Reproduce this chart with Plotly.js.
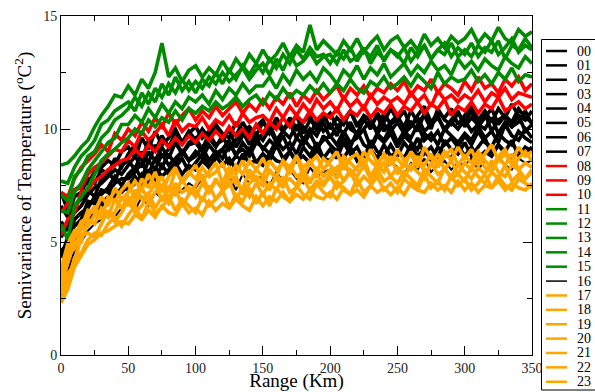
<!DOCTYPE html>
<html><head><meta charset="utf-8">
<script src="https://cdn.plot.ly/plotly-3.0.1.min.js"></script>
<style>html,body{margin:0;padding:0;background:#fff}#chart{width:595px;height:392px}
#chart svg text{font-family:'Liberation Serif',serif !important;}</style>
</head><body><div id="chart"></div>
<script>
const rangeKm = [0,5,10,15,20,25,30,35,40,45,50,55,60,65,70,75,80,85,90,95,100,105,110,115,120,125,130,135,140,145,150,155,160,165,170,175,180,185,190,195,200,205,210,215,220,225,230,235,240,245,250,255,260,265,270,275,280,285,290,295,300,305,310,315,320,325,330,335,340,345,350];
const seriesNames = ["00","01","02","03","04","05","06","07","08","09","10","11","12","13","14","15","16","17","18","19","20","21","22","23"];

const s00 = [7.2,6.4,7.3,7.5,7.6,8.1,8.3,8.6,8.4,9.0, 9.2,8.7,9.6,9.1,9.9,9.3,9.6,10.0,9.4,9.8, 10.1,9.6,9.9,10.2,9.5,10.0,9.7,10.3,9.8,10.1, 10.4,9.8,10.2,9.9,10.5,10.0,10.3,10.6,9.9,10.4, 10.7,10.1,10.4,10.8,10.2,10.5,10.0,10.7,10.3,10.9, 10.4,10.8,10.1,10.6,11.0,10.3,10.7,10.5,10.9,10.2, 10.6,11.0,10.4,10.8,10.3,10.9,10.5,11.1,10.6,10.4, 10.8];
const s01 = [3.8,4.2,5.3,5.6,6.2,6.5,6.7,7.0,7.3,7.2, 7.5,7.9,7.4,8.2,7.8,8.4,8.0,8.3,8.7,8.1, 8.5,8.9,8.3,8.7,9.1,8.4,8.8,8.6,9.2,8.5, 8.9,8.6,9.3,8.7,9.0,8.5,9.2,8.8,9.4,8.7, 9.1,8.7,9.4,8.9,9.2,8.6,9.5,9.0,8.8,9.3, 8.8,9.4,9.0,9.6,8.9,9.2,8.7,9.5,9.1,8.9, 9.4,8.8,9.2,9.6,8.9,9.3,9.0,9.5,8.8,9.2, 9.0];
const s02 = [5.9,5.5,6.6,6.9,7.3,7.0,7.8,8.1,7.7,8.4, 8.6,8.2,9.0,8.5,9.3,8.8,9.1,9.5,8.9,9.4, 9.6,9.1,9.8,9.3,9.5,10.0,9.2,9.7,10.1,9.4, 9.8,10.2,9.5,9.9,10.3,9.6,10.1,9.7,10.4,9.9, 10.2,9.7,10.5,10.0,9.8,10.4,10.1,10.6,9.9,10.3, 10.6,10.0,10.3,9.9,10.7,10.2,10.5,10.0,10.4,10.8, 10.1,10.5,10.2,10.7,9.9,10.4,10.6,10.1,10.3,10.8, 10.2];
const s03 = [4.6,4.9,6.0,6.3,6.5,7.0,7.1,7.4,7.9,7.5, 8.0,8.3,7.8,8.6,8.2,8.9,8.4,8.7,9.0,8.6, 9.0,8.7,9.3,8.9,9.1,9.5,8.8,9.4,9.0,9.6, 9.1,9.5,9.2,9.7,9.0,9.6,9.3,9.8,9.2,9.5, 9.7,9.3,9.9,9.4,9.6,10.0,9.2,9.8,9.5,10.1, 9.4,9.9,9.6,10.2,9.5,9.8,9.3,10.0,9.7,9.4, 9.8,9.5,10.1,9.6,9.9,9.4,10.2,9.7,9.5,10.0, 9.6];
const s04 = [6.6,6.1,7.0,7.2,7.8,7.6,8.2,8.0,8.7,8.3, 8.9,9.3,8.6,9.5,9.0,9.7,9.2,9.8,9.4,9.9, 9.5,10.0,9.6,10.2,9.8,9.6,10.3,9.9,10.1,9.7, 10.3,9.9,10.5,10.0,10.2,10.6,9.8,10.4,10.1,10.7, 10.0,10.5,10.2,10.8,10.1,10.6,10.4,9.9,10.7,10.2, 10.5,10.1,10.8,10.3,10.6,10.0,10.9,10.4,10.2,10.7, 10.3,10.8,10.1,10.5,10.9,10.2,10.6,10.3,10.9,10.5, 10.3];
const s05 = [3.4,4.4,5.0,5.8,6.0,6.4,6.6,6.9,7.0,7.4, 7.3,7.6,8.0,7.5,8.3,7.9,8.2,8.5,8.0,8.4, 8.2,8.6,8.3,8.8,8.4,8.7,8.2,8.9,8.5,8.6, 8.4,8.9,8.6,8.5,9.0,8.6,8.8,8.5,9.1,8.7, 8.6,9.0,8.7,9.2,8.6,8.9,9.1,8.7,9.3,8.8, 9.0,8.7,9.3,8.8,9.1,8.6,9.2,8.9,8.7,9.3, 8.8,9.2,8.7,9.0,8.8,9.3,8.9,8.7,9.1,8.9, 9.2];
const s06 = [5.2,5.8,6.3,6.6,7.1,7.4,7.6,7.9,8.2,8.0, 8.4,8.8,8.3,9.0,8.6,9.2,8.7,9.4,8.9,9.3, 9.4,9.0,9.6,9.2,9.7,9.1,9.5,9.9,9.3,9.8, 9.5,10.0,9.4,9.9,9.6,10.2,9.5,10.0,9.7,10.3, 9.6,10.1,9.8,10.3,9.7,10.0,10.4,9.8,10.2,9.9, 10.3,9.8,10.1,10.5,9.9,10.2,10.6,9.9,10.3,10.0, 10.4,9.9,10.2,10.0,10.5,9.8,10.3,10.1,10.6,9.9, 10.2];
const s07 = [4.3,5.2,5.7,6.0,6.8,6.7,7.3,7.2,7.6,7.8, 7.8,8.1,8.5,8.0,8.7,8.3,8.9,8.4,9.1,8.6, 8.8,9.2,8.6,9.0,8.7,9.3,8.9,9.1,8.8,9.4, 9.2,8.9,9.5,9.1,9.4,8.9,9.6,9.2,9.0,9.7, 9.3,9.0,9.6,9.2,9.9,9.3,9.1,9.7,9.4,9.8, 9.2,9.7,9.4,9.1,9.8,9.5,9.9,9.3,9.6,9.2, 9.7,9.3,9.9,9.4,9.2,9.8,9.5,9.3,9.9,9.6, 9.4];
const s08 = [7.2,7.0,7.8,8.3,8.6,8.9,9.3,9.0,9.8,9.5, 10.0,9.7,10.3,9.9,10.5,10.1,10.7,10.2,10.6,10.9, 10.4,10.8,10.5,11.0,10.6,10.9,11.2,10.7,11.1,10.8, 11.3,10.9,11.4,11.1,11.6,11.0,11.5,11.2,11.7,11.3, 11.6,11.9,11.3,11.8,11.5,11.9,11.4,11.8,11.6,12.0, 11.7,12.1,11.5,11.9,11.7,12.2,11.6,12.0,11.8,11.5, 12.1,11.7,12.3,11.8,12.0,11.6,12.2,11.9,12.3,11.7, 12.0];
const s09 = [5.3,6.0,6.3,7.2,7.3,7.7,7.9,8.2,8.4,8.6, 8.7,9.1,8.8,9.3,9.0,9.5,9.2,9.6,9.3,9.7, 9.4,9.8,9.5,9.9,9.6,10.1,9.7,10.0,9.6,10.2, 9.8,10.3,10.0,10.5,10.1,10.6,10.3,10.8,10.4,10.7, 10.5,10.9,10.4,10.8,10.6,11.0,10.5,10.9,10.7,11.1, 10.6,11.0,10.8,11.2,10.7,11.1,10.9,11.3,10.6,11.0, 10.8,11.2,10.7,11.1,10.9,11.4,10.8,11.0,11.2,10.9, 11.1];
const s10 = [6.3,6.7,7.3,7.4,8.0,8.3,8.5,8.8,9.1,9.0, 9.5,9.2,9.9,9.5,9.8,10.2,9.7,10.4,9.9,10.2, 10.1,10.5,10.0,10.4,10.2,10.6,10.1,10.7,10.3,10.5, 10.6,10.3,10.9,10.5,11.0,10.6,11.1,10.7,11.3,10.9, 11.2,10.8,11.4,11.0,11.3,10.9,11.5,11.1,11.4,11.2, 11.4,11.1,11.6,11.2,11.5,11.0,11.7,11.3,11.5,11.2, 11.5,11.3,11.7,11.2,11.6,11.4,11.8,11.3,11.6,11.5, 11.4];
const s11 = [8.4,8.5,8.8,9.2,9.5,10.1,10.6,11.0,11.5,11.4, 11.9,11.5,12.2,11.8,12.5,13.8,12.3,12.7,12.1,12.6, 12.8,12.3,12.7,12.4,13.0,12.5,13.1,12.7,13.3,12.9, 13.5,13.0,13.3,13.8,13.2,13.7,13.4,14.6,13.5,13.9, 13.6,13.3,13.9,13.5,14.0,13.4,13.8,14.1,13.5,13.9, 14.1,13.6,13.9,13.5,14.2,13.7,14.0,13.6,14.1,13.8, 14.0,14.4,13.8,14.2,13.9,14.5,14.0,13.8,14.4,14.1, 14.3];
const s12 = [5.8,5.1,6.6,7.0,7.4,8.0,8.6,8.9,9.1,9.4, 9.6,10.0,9.8,10.4,10.1,10.5,10.3,10.8,10.4,10.9, 10.7,11.0,10.8,11.2,10.9,11.1,11.4,11.0,11.3,11.5, 11.1,11.6,11.3,11.8,11.4,11.7,11.5,11.9,11.6,12.0, 11.6,12.0,11.7,12.2,11.8,11.6,12.1,11.9,12.3,11.8, 12.0,12.3,11.9,12.4,12.1,11.8,12.5,12.0,12.3,12.1, 12.2,12.6,12.1,12.4,12.0,12.5,12.2,12.7,12.1,12.4, 12.3];
const s13 = [7.7,7.6,8.3,8.8,9.1,9.5,10.2,10.4,10.8,11.0, 11.2,10.8,11.6,11.1,11.8,11.4,12.0,11.6,12.2,11.7, 12.1,11.8,12.3,12.0,12.5,12.1,12.4,12.7,12.2,12.6, 12.9,12.4,13.1,12.6,13.3,12.8,13.0,13.4,12.9,13.2, 13.3,12.9,13.5,13.0,13.2,13.6,12.9,13.4,13.1,13.5, 13.2,13.6,13.0,13.4,13.7,13.1,13.5,13.3,13.8,13.2, 13.5,13.2,13.7,13.4,13.9,13.3,13.6,14.0,13.4,13.7, 13.5];
const s14 = [6.4,6.3,7.2,7.6,8.2,8.6,9.0,9.4,9.6,10.2, 10.2,10.6,10.3,10.9,10.5,11.1,10.7,11.2,10.9,11.4, 11.2,11.5,11.1,11.7,11.3,11.8,11.5,12.0,11.6,11.9, 11.9,12.3,11.8,12.4,12.0,12.6,12.2,12.5,12.1,12.7, 12.4,12.0,12.6,12.3,12.8,12.2,12.7,12.4,12.9,12.3, 12.6,12.9,12.4,12.8,12.5,13.0,12.6,12.8,12.4,13.1, 12.7,13.0,12.6,13.1,12.8,12.6,13.2,12.9,12.7,13.2, 12.9];
const s15 = [7.1,6.8,7.9,8.2,8.8,9.0,9.6,9.9,10.4,10.6, 10.9,11.4,11.0,11.6,11.2,12.0,11.5,12.3,11.7,12.1, 11.6,12.2,11.9,12.5,12.0,12.6,12.2,12.8,12.4,12.9, 12.5,13.1,12.7,13.3,12.9,13.5,13.1,13.6,13.2,13.3, 12.9,13.4,13.1,13.6,13.0,13.5,13.2,13.7,13.0,13.5, 13.3,12.9,13.6,13.2,13.7,13.1,13.5,13.8,13.2,13.6, 13.3,13.8,13.2,13.6,13.4,13.9,13.1,13.7,13.5,14.0, 13.6];
const s16 = [2.6,3.7,4.6,5.0,5.5,5.8,6.0,6.2,6.1,6.5, 6.7,6.4,7.0,6.6,7.2,6.9,7.4,7.1,7.3,7.6, 7.4,7.8,7.2,7.7,7.5,7.9,7.3,8.0,7.6,7.8, 7.9,7.5,8.1,7.7,8.2,7.8,7.6,8.3,7.9,8.1, 8.2,7.9,8.4,8.0,8.3,8.5,7.9,8.4,8.1,8.6, 8.3,8.0,8.5,8.2,8.7,8.1,8.4,8.6,8.2,8.5, 8.4,8.7,8.2,8.6,8.3,8.8,8.4,8.2,8.7,8.5, 8.6];
const s17 = [3.5,4.6,5.2,5.9,6.1,6.6,6.0,7.0,6.8,7.3, 7.6,6.9,7.8,7.4,8.1,7.2,7.9,8.3,7.6,8.0, 8.4,7.7,8.1,8.5,7.6,8.3,8.0,8.6,7.8,8.2, 8.7,8.1,7.9,8.6,8.3,8.8,7.9,8.5,8.8,8.2, 8.6,9.0,8.2,8.7,8.9,8.3,9.1,8.5,8.8,8.4, 9.1,8.6,8.9,8.3,9.2,8.7,8.5,9.0,8.6,9.2, 8.7,9.1,8.4,8.9,9.3,8.6,8.9,8.5,9.2,8.8, 9.0];
const s18 = [2.4,3.2,4.3,4.5,5.1,5.4,5.3,5.8,6.1,5.7, 6.2,6.6,6.0,6.8,6.3,6.5,7.0,6.4,6.9,6.6, 6.3,7.0,6.6,6.9,7.3,6.5,7.1,6.8,7.4,6.7, 7.2,6.6,7.4,7.0,6.8,7.5,7.1,6.9,7.6,7.2, 7.0,7.7,7.3,7.1,7.8,7.2,7.5,7.9,7.3,7.6, 7.2,7.8,7.5,7.3,8.0,7.4,7.7,7.3,7.9,7.5, 7.8,7.3,7.6,8.0,7.4,7.9,7.5,7.3,7.8,7.6, 7.4];
const s19 = [3.0,4.1,5.0,5.0,6.0,5.8,6.5,6.2,6.3,7.0, 6.6,7.3,6.9,7.1,7.6,6.8,7.4,7.1,7.8,7.2, 7.5,8.0,7.2,7.7,7.4,8.1,7.6,7.3,8.2,7.7, 7.5,8.2,7.8,7.4,8.4,7.9,8.1,7.6,8.3,7.9, 8.2,7.8,8.6,8.0,8.3,8.7,7.9,8.4,8.1,8.8, 8.0,8.5,8.2,8.8,8.1,8.4,8.9,8.2,8.6,8.0, 8.5,8.2,8.8,8.3,8.1,8.7,8.4,8.9,8.2,8.5, 8.3];
const s20 = [2.7,3.6,4.0,5.3,5.4,5.2,5.8,6.4,5.9,6.3, 6.9,6.3,6.6,7.2,6.5,7.0,6.7,7.4,6.6,7.1, 7.3,6.8,7.5,6.9,7.2,7.7,6.9,7.4,7.0,7.6, 7.1,7.6,7.3,7.9,7.2,7.4,7.8,7.3,7.7,7.5, 7.9,7.4,7.7,8.1,7.5,7.9,7.6,8.2,7.7,7.9, 7.6,8.1,7.8,7.5,8.2,7.9,7.6,8.3,7.8,8.0, 7.7,8.3,7.9,7.6,8.1,7.8,8.4,7.7,8.0,7.8, 8.2];
const s21 = [3.8,4.9,5.5,5.6,6.4,6.3,7.0,6.6,7.4,6.9, 7.2,7.7,7.3,8.0,7.5,7.9,7.2,8.2,7.7,8.1, 7.8,8.3,7.9,8.1,8.5,7.8,8.4,8.0,8.6,8.2, 7.9,8.6,8.2,8.5,8.0,8.8,8.3,8.6,8.1,8.7, 8.4,8.1,8.8,8.5,8.2,9.0,8.6,8.3,8.9,8.5, 8.7,8.3,9.0,8.6,8.4,8.9,8.3,8.8,9.1,8.4, 8.8,8.5,9.0,8.6,8.3,8.8,9.1,8.4,8.7,9.0, 8.6];
const s22 = [2.3,2.9,3.9,4.4,4.9,5.1,5.4,5.5,5.7,5.9, 5.8,6.2,6.0,6.4,6.1,6.6,6.3,6.2,6.7,6.3, 6.5,6.2,6.8,6.4,6.7,6.5,6.9,6.6,6.4,7.0, 6.6,7.0,6.8,7.2,6.8,7.1,6.9,7.3,7.0,6.9, 7.2,6.9,7.4,7.1,7.3,7.0,7.5,7.2,7.4,7.1, 7.4,7.1,7.6,7.3,7.2,7.6,7.3,7.5,7.2,7.7, 7.3,7.6,7.2,7.5,7.4,7.7,7.3,7.6,7.4,7.3, 7.6];
const s23 = [3.3,4.4,4.7,5.6,5.7,6.2,6.4,6.1,6.9,6.5, 7.0,6.7,7.4,6.8,7.2,7.5,6.9,7.6,7.2,7.4, 7.0,7.6,7.2,7.8,7.3,7.5,7.9,7.1,7.6,7.9, 7.7,7.3,8.0,7.6,7.8,7.5,8.2,7.7,8.0,7.6, 8.0,8.3,7.7,8.2,7.9,8.4,7.8,8.1,8.5,7.9, 8.3,7.9,8.4,8.1,7.8,8.5,8.0,8.2,7.9,8.4, 8.1,7.8,8.3,8.0,8.6,8.1,7.9,8.4,8.2,7.8, 8.1];

const seriesValues = [s00,s01,s02,s03,s04,s05,s06,s07,s08,s09,s10,s11,s12,s13,s14,s15,s16,s17,s18,s19,s20,s21,s22,s23];

// styles
const BLACK = '#000000', RED = '#ff0000', GREEN = 'rgb(0,139,0)', ORANGE = 'rgb(255,165,0)';
const seriesColors = [BLACK,BLACK,BLACK,BLACK,BLACK,BLACK,BLACK,BLACK,RED,RED,RED,GREEN,GREEN,GREEN,GREEN,GREEN,BLACK,ORANGE,ORANGE,ORANGE,ORANGE,ORANGE,ORANGE,ORANGE];
const seriesWidths = seriesNames.map(n => n === '16' ? 2 : 3.6);
const legendWidths = seriesNames.map(n => n === '16' ? 1.5 : 2.5);

const traces = seriesNames.map((name, i) => ({
  type: 'scatter', mode: 'lines', name: name,
  x: rangeKm, y: seriesValues[i],
  line: {color: seriesColors[i], width: seriesWidths[i]},
  hoverinfo: 'skip'
}));

// geometry of the plot box (px)
const L = 61, R = 532, T = 16, B = 355, W = 595, H = 392;
const px2x = p => (p - L) / (R - L);
const px2y = p => (B - p) / (B - T);
const FONT = 'Liberation Serif, serif';

const shapes = [{
  type: 'rect', xref: 'paper', yref: 'paper',
  x0: px2x(541.5), x1: px2x(610), y0: px2y(390), y1: px2y(39.5),
  line: {color: '#000', width: 1}, fillcolor: 'rgba(255,255,255,1)', layer: 'above'
}];
const annotations = [];
seriesNames.forEach((name, i) => {
  const yy = px2y(51 + 14.38 * i);
  shapes.push({type: 'line', xref: 'paper', yref: 'paper', x0: px2x(546), x1: px2x(567), y0: yy, y1: yy,
    line: {color: seriesColors[i], width: legendWidths[i]}, layer: 'above'});
  annotations.push({xref: 'paper', yref: 'paper', x: px2x(575), y: yy, xanchor: 'left', yanchor: 'middle',
    text: name, showarrow: false, font: {family: FONT, size: 14, color: '#000'}});
});

const axisCommon = {
  ticks: 'inside', ticklen: 9, tickwidth: 1, tickcolor: '#000',
  showline: true, linecolor: '#000', linewidth: 1, mirror: 'allticks',
  showgrid: false, zeroline: false, tickfont: {family: FONT, size: 14, color: '#222'}
};

const layout = {
  width: W, height: H,
  margin: {l: L, r: W - R, t: T, b: H - B, pad: 0},
  paper_bgcolor: '#fff', plot_bgcolor: '#fff',
  showlegend: false,
  font: {family: FONT, size: 14},
  xaxis: Object.assign({}, axisCommon, {
    range: [0, 350], tickmode: 'linear', tick0: 0, dtick: 50,
    minor: {dtick: 25, ticks: 'inside', ticklen: 5, tickcolor: '#000', tickwidth: 1},
    title: {text: 'Range (Km)', font: {family: FONT, size: 19, color: '#000'}, standoff: 6}
  }),
  yaxis: Object.assign({}, axisCommon, {
    range: [0, 15], tickmode: 'linear', tick0: 0, dtick: 5,
    minor: {dtick: 2.5, ticks: 'inside', ticklen: 5, tickcolor: '#000', tickwidth: 1},
    title: {text: 'Semivariance of Temperature (<sup>o</sup>C<sup>2</sup>)', font: {family: FONT, size: 19, color: '#000'}, standoff: 6}
  }),
  shapes: shapes,
  annotations: annotations
};

Plotly.newPlot('chart', traces, layout, {staticPlot: true});
</script>
</body></html>
